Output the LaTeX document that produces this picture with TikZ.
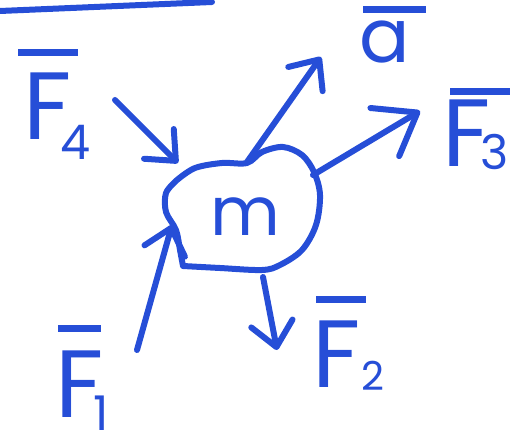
\documentclass[tikz,border=0pt]{standalone}
\usepackage{fontspec}
\setmainfont{Poppins}
\usetikzlibrary{arrows.meta}
\definecolor{ink}{RGB}{38,78,215}
% #1 bar shift, #2 bar width, #3 gap, #4 glyph height, #5 text
\newcommand\barred[5]{\vbox{\offinterlineskip\moveright#1\vbox{\hrule height 7bp width #2}\kern#3\hbox{\smash{#5}\vrule width 0pt height #4}}}
\newcommand\subsc[3]{\kern#1\raisebox{#2}{\fontsize{48}{48}\selectfont #3}}
\begin{document}
\begin{tikzpicture}[x=1bp,y=-1bp, line width=6bp, line cap=round, line join=round,
  every node/.style={inner sep=0pt, text=ink},
  force/.style={draw=ink, -{Straight Barb[length=24bp,width=42bp,round]}},
  bigforce/.style={draw=ink, -{Straight Barb[length=38bp,width=56bp,round]}},
  lbl/.style={anchor=base west, font=\fontsize{96}{96}\selectfont}]
\useasboundingbox (0,0) rectangle (523,439);
% stray stroke at the top
\draw[ink] (0,11) -- (212,2);
% body
\draw[ink] plot[smooth, tension=0.55] coordinates {
  (177,180) (195,168) (222,163) (247,163) (262,152) (283,147) (302,155)
  (314,172) (320,195) (316,225) (302,250) (280,265) (262,270) (220,268)
  (183,266)}
  -- plot[smooth, tension=0.55] coordinates {(183,266) (180,250) (176,230) (166,212) (166,193) (177,180)} -- cycle;
\node[font=\fontsize{68}{68}\selectfont] (m) at (245,217) {m};
% arrow end points
\coordinate (a0) at (247,162);  \coordinate (a1) at (321,57);
\coordinate (f30) at (313,175); \coordinate (f31) at (420,111);
\coordinate (f40) at (115,100); \coordinate (f41) at (178,163);
\coordinate (f10) at (137,350); \coordinate (f11) at (172,225);
\coordinate (f20) at (263,277); \coordinate (f21) at (277,350);
\draw[force] (a0) -- (a1);
\draw[bigforce] (f30) -- (f31);
\draw[force] (f40) -- (f41);
\draw[force] (f10) -- (f11);
\draw[force] (f20) -- (f21);
% labels
\node[lbl, font=\fontsize{75}{75}\selectfont] (la) at (356,63) {\barred{4bp}{63bp}{9bp}{41bp}{a}};
\node[lbl] (l4) at (20,140) {\barred{-5bp}{60bp}{17bp}{67bp}{F}\subsc{-18bp}{-20bp}{4}};
\node[lbl] (l3) at (439,167) {\barred{8bp}{60bp}{5bp}{67bp}{F}\subsc{-30bp}{-3bp}{3}};
\node[lbl] (l1) at (52,417) {\barred{3bp}{43bp}{18bp}{67bp}{F}\subsc{-10bp}{-13bp}{1}};
\node[lbl] (l2) at (309,387) {\barred{4bp}{50bp}{17bp}{67bp}{F}\kern-5bp\raisebox{-3bp}{\fontsize{40}{40}\selectfont 2}};
\end{tikzpicture}
\end{document}
